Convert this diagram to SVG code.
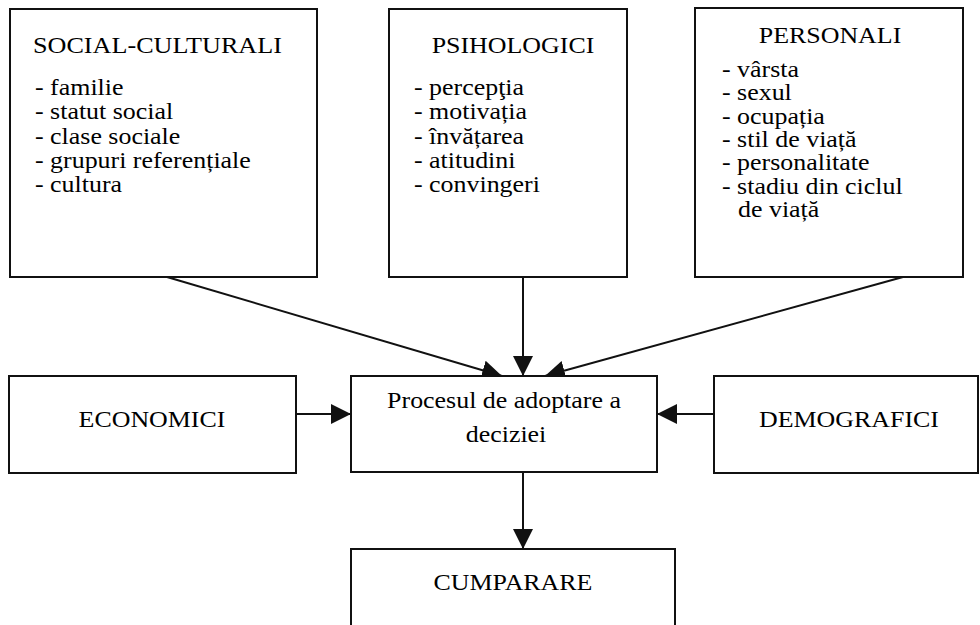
<svg xmlns="http://www.w3.org/2000/svg" width="980" height="625" viewBox="0 0 980 625">
  <style>
    .box { fill: #ffffff; stroke: #111111; stroke-width: 2; }
    .lbl { font-family: "Liberation Serif", "Times New Roman", serif; font-size: 24px; fill: #000000; }
    .mid { text-anchor: middle; }
    .conn { stroke: #111111; stroke-width: 2; fill: none; marker-end: url(#head); }
  </style>
  <defs>
    <marker id="head" markerUnits="userSpaceOnUse" markerWidth="20" markerHeight="20" refX="20" refY="10" orient="auto">
      <polygon points="0,0 20,10 0,20" fill="#111111"/>
    </marker>
  </defs>
  <rect width="980" height="625" fill="#ffffff"/>

  <!-- connectors -->
  <g id="connectors">
    <line class="conn" x1="167" y1="277" x2="502" y2="376"/>
    <line class="conn" x1="523" y1="277" x2="523" y2="376"/>
    <line class="conn" x1="903" y1="277" x2="545" y2="376"/>
    <line class="conn" x1="296" y1="414" x2="351" y2="414"/>
    <line class="conn" x1="714" y1="414" x2="657" y2="414"/>
    <line class="conn" x1="523" y1="472" x2="523" y2="549"/>
  </g>

  <!-- social-cultural factors -->
  <g id="social-culturali">
    <rect class="box" x="10" y="9" width="307" height="268"/>
    <text class="lbl" transform="translate(33 53) scale(1.09 1)">SOCIAL-CULTURALI</text>
    <text class="lbl" transform="translate(35 95) scale(1.08 1)">- familie</text>
    <text class="lbl" transform="translate(35 119.3) scale(1.08 1)">- statut social</text>
    <text class="lbl" transform="translate(35 143.6) scale(1.08 1)">- clase sociale</text>
    <text class="lbl" transform="translate(35 167.9) scale(1.08 1)">- grupuri referențiale</text>
    <text class="lbl" transform="translate(35 192.2) scale(1.08 1)">- cultura</text>
  </g>

  <!-- psychological factors -->
  <g id="psihologici">
    <rect class="box" x="389" y="9" width="238" height="268"/>
    <text class="lbl mid" transform="translate(513 53) scale(1.08 1)">PSIHOLOGICI</text>
    <text class="lbl" transform="translate(414 95) scale(1.08 1)">- percepţia</text>
    <text class="lbl" transform="translate(414 119.3) scale(1.08 1)">- motivația</text>
    <text class="lbl" transform="translate(414 143.6) scale(1.08 1)">- învățarea</text>
    <text class="lbl" transform="translate(414 167.9) scale(1.08 1)">- atitudini</text>
    <text class="lbl" transform="translate(414 192.2) scale(1.08 1)">- convingeri</text>
  </g>

  <!-- personal factors -->
  <g id="personali">
    <rect class="box" x="695" y="8" width="268" height="269"/>
    <text class="lbl mid" transform="translate(830 43) scale(1.08 1)">PERSONALI</text>
    <text class="lbl" transform="translate(722 77) scale(1.08 1)">- vârsta</text>
    <text class="lbl" transform="translate(722 100.3) scale(1.08 1)">- sexul</text>
    <text class="lbl" transform="translate(722 123.6) scale(1.08 1)">- ocupația</text>
    <text class="lbl" transform="translate(722 146.9) scale(1.08 1)">- stil de viață</text>
    <text class="lbl" transform="translate(722 170.2) scale(1.08 1)">- personalitate</text>
    <text class="lbl" transform="translate(722 193.5) scale(1.08 1)">- stadiu din ciclul</text>
    <text class="lbl" transform="translate(738 216.8) scale(1.08 1)">de viață</text>
  </g>

  <!-- economic factors -->
  <g id="economici">
    <rect class="box" x="9" y="376" width="287" height="97"/>
    <text class="lbl mid" transform="translate(152 427) scale(1.08 1)">ECONOMICI</text>
  </g>

  <!-- decision process -->
  <g id="procesul">
    <rect class="box" x="351" y="376" width="306" height="96"/>
    <text class="lbl mid" transform="translate(504 408) scale(1.08 1)">Procesul de adoptare a</text>
    <text class="lbl mid" transform="translate(506 442) scale(1.08 1)">deciziei</text>
  </g>

  <!-- demographic factors -->
  <g id="demografici">
    <rect class="box" x="714" y="376" width="264" height="97"/>
    <text class="lbl mid" transform="translate(849 427) scale(1.08 1)">DEMOGRAFICI</text>
  </g>

  <!-- purchase -->
  <g id="cumparare">
    <rect class="box" x="351" y="549" width="324" height="90"/>
    <text class="lbl mid" transform="translate(513 590) scale(1.08 1)">CUMPARARE</text>
  </g>
</svg>
